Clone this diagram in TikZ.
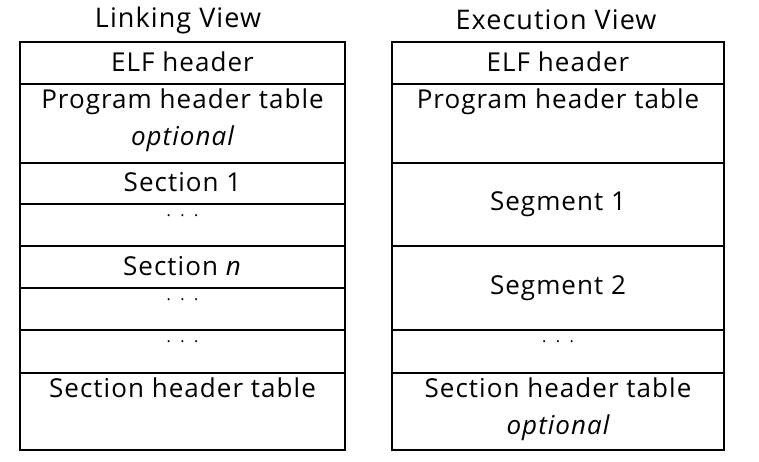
\documentclass[tikz,border=0pt]{standalone}
\usepackage{fontspec}
\setmainfont{Open Sans}[LetterSpace=4]
\begin{document}
\begin{tikzpicture}[x=1pt,y=-1pt,
  cell/.style={draw=black,line width=1.3pt,inner sep=0pt,minimum width=#1},
  lbl/.style={font=\fontsize{26}{28}\selectfont,inner sep=0pt},
  ttl/.style={font=\fontsize{27}{28}\selectfont,inner sep=0pt},
  dots/.style={font=\fontsize{16}{16}\selectfont,inner sep=0pt,text height=3pt,text depth=0pt}]
\useasboundingbox (0,0) rectangle (759,462);

% titles
\node[ttl] (tl) at (178,20) {Linking View};
\node[ttl] (tr) at (556,20) {Execution View};

% linking view rows: name / top / bottom
\foreach \n/\a/\b in {l1/42/84,l2/84/163,l3/163/204,l4/204/246,l5/246/288,l6/288/330,l7/330/373,l8/373/450}
  \node[cell=325pt,minimum height={\b-\a}] (\n) at (182.5,{(\a+\b)/2}) {};

% execution view rows
\foreach \n/\a/\b in {r1/42/84,r2/84/163,r3/163/246,r4/246/330,r5/330/373,r6/373/450}
  \node[cell=332pt,minimum height={\b-\a}] (\n) at (558,{(\a+\b)/2}) {};

% linking view texts
\node[lbl] at ([yshift=1pt]l1) {ELF header};
\node[lbl,anchor=north] at ([yshift=-5pt]l2.north) {Program header table};
\node[lbl,anchor=north] at ([yshift=-42pt]l2.north) {\itshape optional};
\node[lbl] at ([yshift=1pt]l3) {Section 1};
\node[dots] at ([yshift=-12pt]l4.north) {.\hspace{0.6em}.\hspace{0.6em}.};
\node[lbl] at ([yshift=1pt]l5) {Section \textit{n}};
\node[dots] at ([yshift=-12pt]l6.north) {.\hspace{0.6em}.\hspace{0.6em}.};
\node[dots] at ([yshift=-12pt]l7.north) {.\hspace{0.6em}.\hspace{0.6em}.};
\node[lbl,anchor=north] at ([yshift=-5pt]l8.north) {Section header table};

% execution view texts
\node[lbl] at ([yshift=1pt]r1) {ELF header};
\node[lbl,anchor=north] at ([yshift=-5pt]r2.north) {Program header table};
\node[lbl] at (r3) {Segment 1};
\node[lbl] at (r4) {Segment 2};
\node[dots] at ([yshift=-12pt]r5.north) {.\hspace{0.6em}.\hspace{0.6em}.};
\node[lbl,anchor=north] at ([yshift=-5pt]r6.north) {Section header table};
\node[lbl,anchor=north] at ([yshift=-42pt]r6.north) {\itshape optional};
\end{tikzpicture}
\end{document}
